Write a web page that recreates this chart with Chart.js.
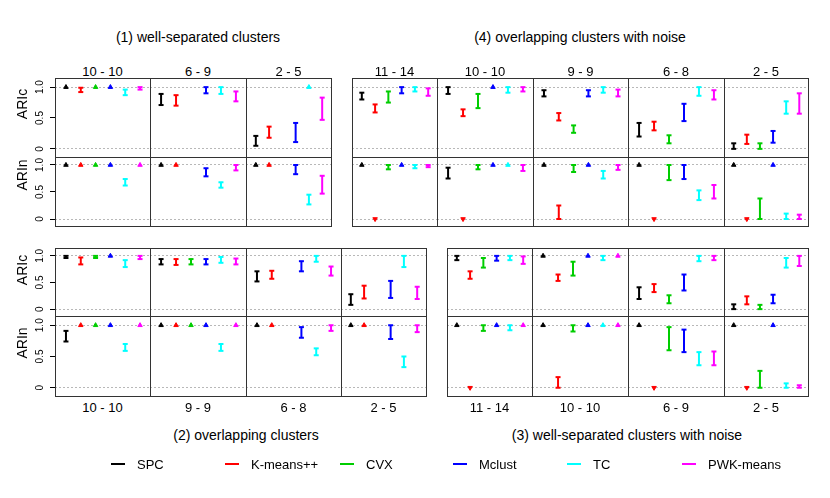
<!DOCTYPE html>
<html>
<head>
<meta charset="utf-8">
<script src="https://cdn.jsdelivr.net/npm/chart.js@4.4.1/dist/chart.umd.min.js"></script>
<style>
    body { margin: 0; background: #fff; font-family: "Liberation Sans", Arial, sans-serif; }
    #wrap { position: relative; width: 830px; height: 498px; overflow: hidden; }
    .panel { position: absolute; line-height: 0; }
    .panel canvas { display: block; }
    .txt { position: absolute; white-space: nowrap; transform: translate(-50%, -50%); color: #000; }
    .rot { transform: translate(-50%, -50%) rotate(-90deg); }
    .dash { position: absolute; height: 2px; }
</style>
</head>
<body>
<div id="wrap"></div>
<script>
// -------------- Datos --------------

const methods = ['SPC', 'K-means++', 'CVX', 'Mclust', 'TC', 'PWK-means'];

// (1) well-separated clusters
const g1Cols = ['10 - 10', '6 - 9', '2 - 5'];
const g1ARIc = [
    [[1, 1], [0.92, 0.99], [1, 1], [1, 1], [0.87, 0.96], [0.96, 1]],
    [[0.71, 0.89], [0.70, 0.87], null, [0.90, 1], [0.89, 1], [0.77, 0.93]],
    [[0.05, 0.21], [0.18, 0.36], null, [0.11, 0.42], [1, 1], [0.47, 0.83]]
];
const g1ARIn = [
    [[1, 1], [1, 1], [1, 1], [1, 1], [0.62, 0.74], [1, 1]],
    [[1, 1], [1, 1], null, [0.79, 0.94], [0.58, 0.68], [0.90, 1]],
    [[1, 1], [1, 1], null, [0.83, 1], [0.27, 0.45], [0.47, 0.80]]
];

// (4) overlapping clusters with noise
const g4Cols = ['11 - 14', '10 - 10', '9 - 9', '6 - 8', '2 - 5'];
const g4ARIc = [
    [[0.80, 0.91], [0.59, 0.72], [0.75, 0.93], [0.90, 1], [0.93, 1], [0.86, 0.98]],
    [[0.89, 1], [0.53, 0.64], [0.66, 0.89], [1, 1], [0.91, 1], [0.93, 1]],
    [[0.85, 0.95], [0.46, 0.58], [0.26, 0.38], [0.85, 0.95], [0.91, 1], [0.85, 0.96]],
    [[0.20, 0.42], [0.30, 0.44], [0.09, 0.22], [0.45, 0.73], [0.86, 1], [0.80, 0.95]],
    [[0, 0.09], [0.08, 0.23], [0, 0.09], [0.10, 0.29], [0.57, 0.77], [0.57, 0.90]]
];
const g4ARIn = [
    [[1, 1], [0, 0], [0.92, 1], [1, 1], [0.94, 1], [0.96, 1]],
    [[0.75, 0.95], [0, 0], [0.92, 1], [1, 1], [1, 1], [0.89, 1]],
    [[1, 1], [0, 0.25], [0.87, 1], [1, 1], [0.75, 0.89], [0.91, 1]],
    [[1, 1], [0, 0], [0.72, 1], [0.74, 1], [0.35, 0.53], [0.38, 0.63]],
    [[1, 1], [0, 0], [0, 0.38], [1, 1], [0, 0.10], [0, 0.08]]
];

// (2) overlapping clusters
const g2Cols = ['10 - 10', '9 - 9', '6 - 8', '2 - 5'];
const g2ARIc = [
    [[0.96, 1], [0.84, 0.97], [0.96, 1], [1, 1], [0.79, 0.92], [0.94, 1]],
    [[0.84, 0.94], [0.83, 0.94], [0.84, 0.94], [0.84, 0.94], [0.87, 0.98], [0.84, 0.95]],
    [[0.52, 0.71], [0.57, 0.72], null, [0.71, 0.90], [0.89, 1], [0.63, 0.80]],
    [[0.08, 0.28], [0.20, 0.44], null, [0.21, 0.53], [0.79, 1], [0.19, 0.42]]
];
const g2ARIn = [
    [[0.74, 0.91], [1, 1], [1, 1], [1, 1], [0.59, 0.70], [1, 1]],
    [[1, 1], [1, 1], [1, 1], [1, 1], [0.59, 0.70], [1, 1]],
    [[1, 1], [1, 1], null, [0.80, 0.97], [0.52, 0.63], [0.91, 1]],
    [[1, 1], [1, 1], null, [0.78, 1], [0.33, 0.50], [0.89, 1]]
];

// (3) well-separated clusters with noise
const g3Cols = ['11 - 14', '10 - 10', '6 - 9', '2 - 5'];
const g3ARIc = [
    [[0.92, 1], [0.57, 0.71], [0.78, 0.96], [0.91, 1], [0.92, 1], [0.85, 0.99]],
    [[1, 1], [0.53, 0.65], [0.63, 0.89], [1, 1], [0.92, 1], [1, 1]],
    [[0.19, 0.41], [0.32, 0.47], [0.11, 0.26], [0.35, 0.65], [0.90, 1], [0.92, 1]],
    [[0, 0.09], [0.09, 0.24], [0, 0.08], [0.11, 0.27], [0.78, 0.96], [0.81, 1]]
];
const g3ARIn = [
    [[1, 1], [0, 0], [0.91, 1], [1, 1], [0.92, 1], [1, 1]],
    [[1, 1], [0, 0.17], [0.90, 1], [1, 1], [1, 1], [1, 1]],
    [[1, 1], [0, 0], [0.60, 0.97], [0.57, 0.93], [0.36, 0.57], [0.36, 0.58]],
    [[1, 1], [0, 0], [0, 0.27], [1, 1], [0, 0.07], [0, 0.04]]
];

const yTicks = [0, 0.5, 1];
const rowLabels = ['ARIc', 'ARIn'];

// -------------- Estilos y posiciones --------------

const colors = ['#000000', '#ff0000', '#00cd00', '#0000ff', '#00ffff', '#ff00ff'];
const FONT = '"Liberation Sans", Arial, sans-serif';
const AXIS_W = 26;

const groups = [
    { title: '(1) well-separated clusters', titleX: 198, titleY: 37, cols: g1Cols, rows: [g1ARIc, g1ARIn],
      xs: [55, 150, 246, 331], ys: [78, 157, 226], axis: true, colY: 71, rowLabelY: [104, 175] },
    { title: '(4) overlapping clusters with noise', titleX: 580, titleY: 37, cols: g4Cols, rows: [g4ARIc, g4ARIn],
      xs: [352, 437, 533, 628, 724, 808], ys: [78, 157, 226], axis: false, colY: 71 },
    { title: '(2) overlapping clusters', titleX: 246, titleY: 435, cols: g2Cols, rows: [g2ARIc, g2ARIn],
      xs: [55, 150, 246, 341, 426], ys: [248, 316, 396], axis: true, colY: 407, rowLabelY: [270, 343] },
    { title: '(3) well-separated clusters with noise', titleX: 627, titleY: 435, cols: g3Cols, rows: [g3ARIc, g3ARIn],
      xs: [447, 532, 628, 724, 808], ys: [248, 316, 396], axis: false, colY: 407 }
];

const legendX = [111, 225, 340, 453, 567, 682];
const legendY = 464;

// -------------- Helpers --------------

const wrap = document.getElementById('wrap');

function addText(text, x, y, size, rotate) {
    const el = document.createElement('div');
    el.className = 'txt' + (rotate ? ' rot' : '');
    el.style.left = x + 'px';
    el.style.top = y + 'px';
    el.style.fontSize = size + 'px';
    el.textContent = text;
    wrap.appendChild(el);
}

const framePlugin = {
    id: 'frame',
    afterDraw(chart) {
        const { ctx, chartArea: a } = chart;
        ctx.save();
        ctx.strokeStyle = '#333';
        ctx.lineWidth = 1;
        ctx.strokeRect(a.left + 0.5, a.top + 0.5, a.right - a.left - 1, a.bottom - a.top - 1);
        ctx.restore();
    }
};

function intervalDatasets(values) {
    const datasets = [];
    values.forEach((iv, i) => {
        if (!iv) return;
        const [lo, hi] = iv;
        const x = i + 1;
        if (hi - lo < 0.02) {
            datasets.push({
                label: methods[i],
                data: [{ x, y: lo }],
                showLine: false,
                pointStyle: 'triangle',
                rotation: lo < 0.5 ? 180 : 0,
                pointRadius: 2.6,
                backgroundColor: colors[i],
                borderColor: colors[i],
                borderWidth: 1
            });
        } else {
            datasets.push({
                label: methods[i],
                data: [{ x, y: lo }, { x, y: hi }],
                showLine: true,
                borderColor: colors[i],
                borderWidth: 2,
                pointStyle: 'line',
                pointRadius: 2.5,
                pointBorderWidth: 2,
                pointBorderColor: colors[i]
            });
        }
    });
    return datasets;
}

function zeroPadding(s) {
    s.paddingLeft = 0;
    s.paddingRight = 0;
    s.paddingTop = 0;
    s.paddingBottom = 0;
}

function addPanel({ left, top, width, height, values, axis }) {
    const extra = axis ? AXIS_W : 0;
    const div = document.createElement('div');
    div.className = 'panel';
    div.style.left = (left - extra) + 'px';
    div.style.top = top + 'px';
    const canvas = document.createElement('canvas');
    canvas.width = width + extra + 1;
    canvas.height = height + 1;
    div.appendChild(canvas);
    wrap.appendChild(div);

    new Chart(canvas, {
        type: 'scatter',
        data: { datasets: intervalDatasets(values) },
        options: {
            responsive: false,
            animation: false,
            layout: { padding: 0, autoPadding: false },
            plugins: { legend: { display: false }, tooltip: { enabled: false } },
            scales: {
                x: { type: 'linear', min: 0.26, max: 6.74, display: false, afterFit: zeroPadding },
                y: {
                    type: 'linear',
                    min: -0.148,
                    max: 1.148,
                    afterBuildTicks: s => { s.ticks = yTicks.map(v => ({ value: v })); },
                    afterFit: s => { s.width = extra; zeroPadding(s); },
                    border: { display: false, dash: [2, 2] },
                    grid: {
                        color: c => (c.tick && c.tick.value === 0.5) ? 'rgba(0,0,0,0)' : '#b8b8b8',
                        lineWidth: 1,
                        drawTicks: axis,
                        tickLength: 5,
                        tickColor: '#000',
                        tickBorderDash: []
                    },
                    ticks: {
                        display: axis,
                        minRotation: 90,
                        maxRotation: 90,
                        crossAlign: 'center',
                        padding: 3,
                        color: '#000',
                        font: { family: FONT, size: 10 }
                    }
                }
            }
        },
        plugins: [framePlugin]
    });
}

// -------------- Render --------------

groups.forEach(g => {
    addText(g.title, g.titleX, g.titleY, 14);
    g.cols.forEach((label, c) => {
        const x0 = g.xs[c], x1 = g.xs[c + 1];
        addText(label, (x0 + x1) / 2, g.colY, 13);
        g.rows.forEach((row, r) => {
            addPanel({
                left: x0,
                top: g.ys[r],
                width: x1 - x0,
                height: g.ys[r + 1] - g.ys[r],
                values: row[c],
                axis: g.axis && c === 0
            });
        });
    });
    if (g.rowLabelY) {
        rowLabels.forEach((label, r) => addText(label, 22, g.rowLabelY[r], 14, true));
    }
});

// leyenda
methods.forEach((m, i) => {
    const d = document.createElement('div');
    d.className = 'dash';
    d.style.left = legendX[i] + 'px';
    d.style.top = (legendY - 1) + 'px';
    d.style.width = '14px';
    d.style.background = colors[i];
    wrap.appendChild(d);

    const t = document.createElement('div');
    t.className = 'txt';
    t.style.left = (legendX[i] + 26) + 'px';
    t.style.top = legendY + 'px';
    t.style.fontSize = '13px';
    t.style.transform = 'translate(0, -50%)';
    t.textContent = m;
    wrap.appendChild(t);
});
</script>
</body>
</html>
